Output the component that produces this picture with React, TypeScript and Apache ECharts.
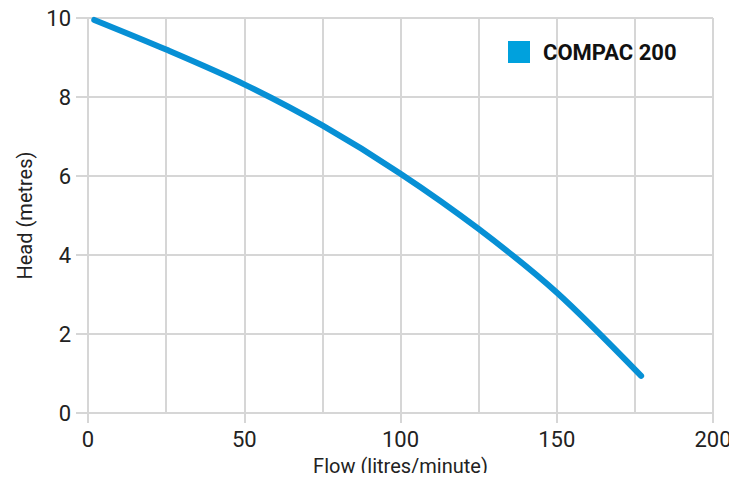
import React, { useEffect, useRef } from "react";
import * as echarts from "echarts";

const flow = [2, 25, 50, 75, 100, 125, 150, 177];
const head = [9.95, 9.2, 8.32, 7.28, 6.06, 4.66, 3.05, 0.94];
const seriesName = "COMPAC 200";
const xTitle = "Flow (litres/minute)";
const yTitle = "Head (metres)";

export default function App() {
  const ref = useRef<HTMLDivElement>(null);
  useEffect(() => {
    if (!ref.current) return;
    const chart = echarts.init(ref.current, undefined, { renderer: "svg" });
    const grid = "#d6d6d6";
    chart.setOption({
      animation: false,
      textStyle: { fontFamily: "Roboto, sans-serif" },
      grid: { left: 88, right: 24, top: 18, bottom: 68 },
      legend: {
        left: 508,
        top: 41,
        padding: 0,
        icon: "rect",
        itemWidth: 22,
        itemHeight: 22,
        itemGap: 0,
        textStyle: {
          fontFamily: "Roboto, sans-serif",
          fontWeight: "bold",
          fontSize: 22,
          color: "#111",
          padding: [0, 0, 0, 8],
        },
        data: [seriesName],
      },
      xAxis: {
        type: "value",
        min: 0,
        max: 200,
        interval: 50,
        name: xTitle,
        nameLocation: "middle",
        nameGap: 43,
        nameTextStyle: { fontSize: 20, color: "#222" },
        axisLine: { show: true, lineStyle: { color: grid, width: 2 } },
        axisTick: { show: true, length: 10, lineStyle: { color: grid, width: 2 } },
        axisLabel: { fontSize: 22, color: "#222", margin: 15 },
        splitLine: { show: true, lineStyle: { color: grid, width: 2 } },
        minorTick: { show: false, splitNumber: 2 },
        minorSplitLine: { show: true, lineStyle: { color: grid, width: 2 } },
      },
      yAxis: {
        type: "value",
        min: 0,
        max: 10,
        interval: 2,
        name: yTitle,
        nameLocation: "middle",
        nameRotate: 90,
        nameGap: 40,
        nameTextStyle: { fontSize: 20, color: "#222" },
        axisLine: { show: true, lineStyle: { color: grid, width: 2 } },
        axisTick: { show: true, length: 12, lineStyle: { color: grid, width: 2 } },
        axisLabel: { fontSize: 22, color: "#222", margin: 17 },
        splitLine: { show: true, lineStyle: { color: grid, width: 2 } },
      },
      series: [
        {
          name: seriesName,
          type: "line",
          data: flow.map((x, i) => [x, head[i]]),
          smooth: 0.3,
          showSymbol: false,
          symbol: "none",
          itemStyle: { color: "#00a1dd" },
          lineStyle: { color: "#0790d5", width: 6, cap: "round" },
        },
      ],
    });
    return () => chart.dispose();
  }, []);
  return <div ref={ref} style={{ width: 737, height: 481, margin: -8 }} />;
}
